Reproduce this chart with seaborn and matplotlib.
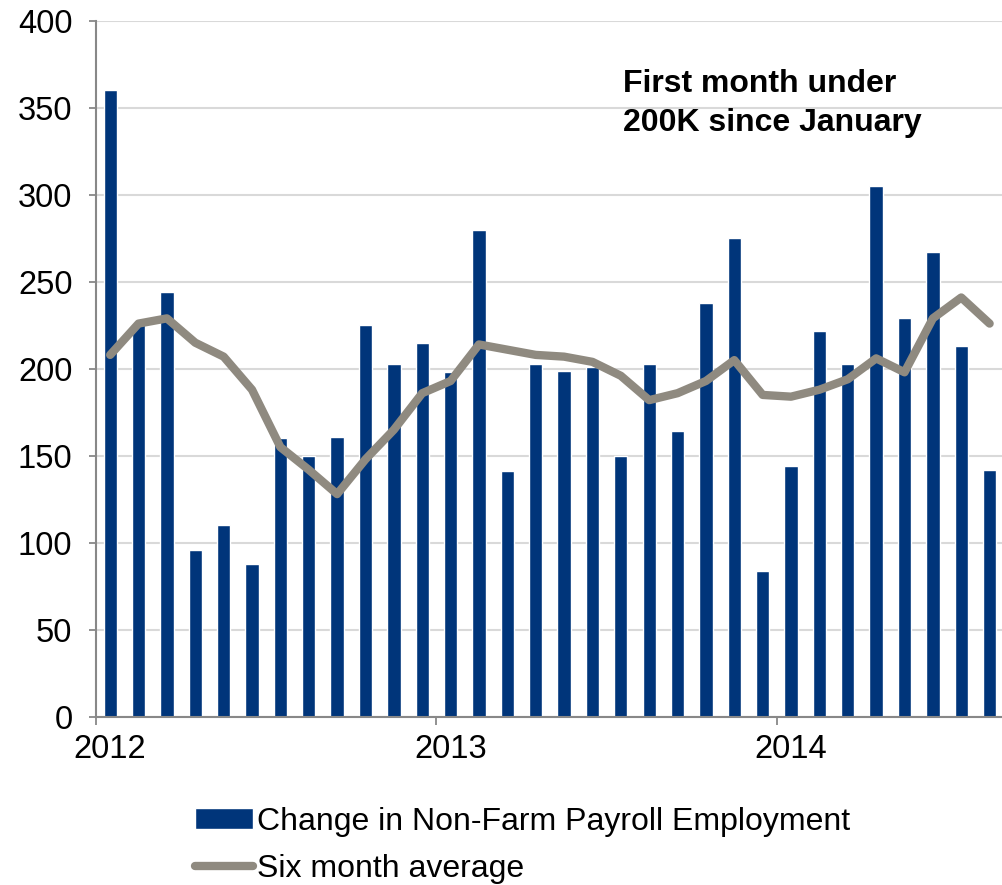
import matplotlib
matplotlib.use("Agg")
import matplotlib.pyplot as plt
import seaborn as sns
import pandas as pd

# monthly change in non-farm payrolls (thousands), Jan 2012 - Aug 2014
months = pd.date_range("2012-01-01", periods=32, freq="MS")
payrolls = [360, 226, 244, 96, 110, 88, 160, 150, 161, 225, 203, 215,
            198, 280, 141, 203, 199, 201, 150, 203, 164, 238, 275, 84,
            144, 222, 203, 305, 229, 267, 213, 142]
six_month_avg = [208, 226, 229, 215, 207, 188, 155, 142, 128, 148, 165, 186,
                 193, 214, 211, 208, 207, 204, 196, 182, 186, 193, 205, 185,
                 184, 188, 194, 206, 198, 229, 241, 226]
year_labels = ["2012", "2013", "2014"]

bar_color = "#00357A"
line_color = "#8F8A80"

sns.set_style("white")
plt.rcParams["font.family"] = ["Liberation Sans", "DejaVu Sans"]
plt.rcParams["text.color"] = "black"
plt.rcParams["xtick.labelcolor"] = "black"
plt.rcParams["ytick.labelcolor"] = "black"

df = pd.DataFrame({"pos": range(len(months)), "payrolls": payrolls, "avg": six_month_avg})

fig = plt.figure(figsize=(10.02, 8.85), dpi=100)
ax = fig.add_axes([0.0958, 0.19, 0.906, 0.7865])

sns.barplot(data=df, x="pos", y="payrolls", color=bar_color, width=0.47,
            saturation=1, ax=ax, label="Change in Non-Farm Payroll Employment")
sns.lineplot(data=df, x="pos", y="avg", color=line_color, linewidth=6,
             ax=ax, label="Six month average")
ax.lines[-1].set_solid_capstyle("round")
ax.lines[-1].set_solid_joinstyle("round")

ax.set_xlim(-0.5, 31.5)
ax.set_ylim(0, 400)
ax.set_yticks(range(0, 401, 50))
ax.yaxis.grid(True, color="#D9D9D9", linewidth=1.5)
ax.set_axisbelow(True)

# year ticks at month boundaries, labels under January bars
ax.set_xticks([-0.5, 11.5, 23.5])
ax.set_xticklabels([])
ax.set_xticks([0, 12, 24], minor=True)
ax.set_xticklabels(year_labels, minor=True)
ax.tick_params(axis="x", which="major", length=6, width=1.3, color="#888888", direction="out", bottom=True)
ax.tick_params(axis="x", which="minor", length=0, pad=12, labelsize=23.5)
ax.tick_params(axis="y", length=5, width=1.3, color="#888888", direction="out", left=True, pad=12, labelsize=23.5)
ax.set_xlabel("")
ax.set_ylabel("")

for s in ["top", "right"]:
    ax.spines[s].set_visible(False)
for s in ["left", "bottom"]:
    ax.spines[s].set_color("#888888")
    ax.spines[s].set_linewidth(1.5)

ax.get_legend().remove()
handles, labels = ax.get_legend_handles_labels()
handles, labels = handles[::-1], labels[::-1]
fig.legend(handles, labels, loc="upper left", bbox_to_anchor=(0.182, 0.103),
           frameon=False, fontsize=23, handlelength=1.8, handleheight=0.6,
           handletextpad=0.15, labelspacing=0.55, borderaxespad=0)

fig.text(0.622, 0.922, "First month under\n200K since January", fontsize=23,
         fontweight="bold", ha="left", va="top", linespacing=1.38)

fig.savefig("out.png", dpi=100)
